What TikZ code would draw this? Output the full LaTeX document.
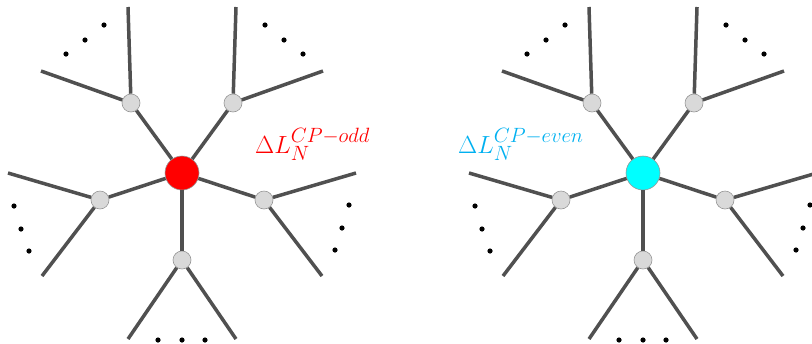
\documentclass[tikz,border=0pt]{standalone}
\usepackage{tikz}
\usetikzlibrary{positioning}
\definecolor{edgegray}{RGB}{80,80,80}
\definecolor{vertfill}{RGB}{217,217,217}
\definecolor{vertline}{RGB}{150,150,150}
\definecolor{oddred}{RGB}{255,0,0}
\definecolor{evencyan}{RGB}{0,255,255}
\definecolor{evenlabel}{RGB}{0,176,240}
\tikzset{
  hub/.style={circle, draw=vertline, line width=0.6bp, minimum size=34bp, inner sep=0pt},
  vert/.style={circle, draw=vertline, line width=0.6bp, fill=vertfill, minimum size=18bp, inner sep=0pt},
  leg/.style={draw=edgegray, line width=3.5bp},
  dotmark/.style={fill=black},
  lagr/.style={font=\fontsize{28}{30}\selectfont, inner sep=0pt, anchor=base west},
}
\begin{document}
\begin{tikzpicture}[x=1bp,y=-1bp]
  \useasboundingbox (0,0) rectangle (812,343);
  % two vertex trees, shifted by 461
  \foreach \ox/\c/\n in {0/oddred/a, 461/evencyan/b} {
    \begin{scope}[xshift=\ox bp]
      \node[hub, fill=\c] (\n0) at (182,173) {};
      \node[vert] (\n1) at (131,103) {};
      \node[vert] (\n2) at (233,103) {};
      \node[vert] (\n3) at (100,200) {};
      \node[vert] (\n4) at (264,200) {};
      \node[vert] (\n5) at (182,260) {};
      % outer ends
      \coordinate (\n1a) at (128,7);   \coordinate (\n1b) at (41,71);
      \coordinate (\n2a) at (236,7);   \coordinate (\n2b) at (323,71);
      \coordinate (\n3a) at (8,173);   \coordinate (\n3b) at (42,276);
      \coordinate (\n4a) at (356,173); \coordinate (\n4b) at (322,276);
      \coordinate (\n5a) at (128,339); \coordinate (\n5b) at (236,339);
      \foreach \k in {1,...,5} {
        \draw[leg] (\n0) -- (\n\k);
        \draw[leg] (\n\k) -- (\n\k a);
        \draw[leg] (\n\k) -- (\n\k b);
      }
      % ellipsis dots
      \foreach \p in {(104,25),(85,40),(66,54),(265,25),(284,40),(303,54),
                      (14,206),(21,229),(29,251),(349,205),(342,228),(335,250),
                      (158,340),(182,340),(205,340)}
        \fill[dotmark] \p circle (2.6bp);
    \end{scope}
  }
  \node[lagr, text=oddred] (lodd) at (255,153) {$\Delta L_N^{CP-odd}$};
  \node[lagr, text=evenlabel] (leven) at (458,153) {$\Delta L_N^{CP-even}$};
\end{tikzpicture}
\end{document}
